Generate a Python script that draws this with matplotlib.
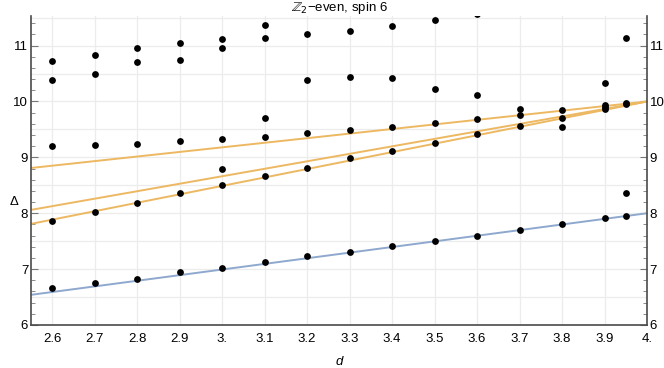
import matplotlib.pyplot as plt
from matplotlib.ticker import MultipleLocator, FixedLocator

plt.rcParams['font.family'] = ['Liberation Sans', 'DejaVu Sans']

# dimensions d at which the spectrum was computed
d_values = [2.6, 2.7, 2.8, 2.9, 3.0, 3.1, 3.2, 3.3, 3.4, 3.5, 3.6, 3.7, 3.8, 3.9, 3.95]

# scaling dimensions found at each d
spectrum = [
    [6.67, 7.87, 9.21, 10.39, 10.73],
    [6.76, 8.03, 9.23, 10.50, 10.83],
    [6.83, 8.19, 9.24, 10.70, 10.95],
    [6.94, 8.36, 9.29, 10.74, 11.04],
    [7.02, 8.50, 8.79, 9.33, 10.95, 11.11],
    [7.13, 8.67, 9.37, 9.71, 11.14, 11.36],
    [7.23, 8.81, 9.43, 10.38, 11.20],
    [7.31, 8.98, 9.49, 10.44, 11.26],
    [7.41, 9.12, 9.55, 10.42, 11.35],
    [7.50, 9.26, 9.61, 10.23, 11.45],
    [7.59, 9.42, 9.69, 10.11, 11.57],
    [7.70, 9.57, 9.75, 9.86],
    [7.80, 9.55, 9.71, 9.84],
    [7.91, 9.87, 9.91, 9.94, 10.33],
    [7.95, 8.36, 9.95, 9.97, 11.14],
]

# reference curves
line_d = [2.55, 4.0]
blue_delta = [6.54, 8.0]
orange_top = [8.81, 10.0]
orange_mid = [8.06, 10.0]
orange_low = [7.81, 10.0]

x_ticks = [2.6, 2.7, 2.8, 2.9, 3.0, 3.1, 3.2, 3.3, 3.4, 3.5, 3.6, 3.7, 3.8, 3.9, 4.0]
x_labels = ["2.6", "2.7", "2.8", "2.9", "3.", "3.1", "3.2", "3.3", "3.4", "3.5",
            "3.6", "3.7", "3.8", "3.9", "4."]
y_ticks = [6, 7, 8, 9, 10, 11]

orange = "#EDB862"
blue = "#8EA8CE"
frame = "#4a4a4a"

fig = plt.figure(figsize=(6.64, 3.68), dpi=100)
ax = fig.add_axes([31 / 664, 1 - 325 / 368, 616 / 664, 309 / 368])
ax.set_xlim(2.55, 4.0)
ax.set_ylim(6, 11.53)

# light grid
for x in x_ticks[:-1]:
    ax.axvline(x, color="#ececec", lw=0.9, zorder=0)
for k in range(12, 24):
    ax.axhline(k / 2, color="#ececec", lw=0.9, zorder=0)

ax.plot(line_d, blue_delta, color=blue, lw=1.4, zorder=2)
for ys in (orange_top, orange_mid, orange_low):
    ax.plot(line_d, ys, color=orange, lw=1.4, zorder=2)

for d, deltas in zip(d_values, spectrum):
    ax.scatter([d] * len(deltas), deltas, s=24, color="black", zorder=3,
               linewidths=0)

ax.spines["top"].set_visible(False)
for side in ("left", "right", "bottom"):
    ax.spines[side].set_color(frame)
    ax.spines[side].set_linewidth(1.2)

ax.xaxis.set_major_locator(FixedLocator(x_ticks))
ax.set_xticklabels(x_labels)
ax.yaxis.set_major_locator(FixedLocator(y_ticks))
ax.yaxis.set_minor_locator(MultipleLocator(0.2))
ax.tick_params(axis="y", which="both", direction="in", left=True, right=True,
               labelleft=True, labelright=True, color="#777777", labelsize=9.5,
               pad=2)
ax.tick_params(axis="y", which="major", length=5, width=0.8)
ax.tick_params(axis="y", which="minor", length=3, width=0.6)
ax.tick_params(axis="x", which="both", direction="in", length=0, labelsize=9.5,
               pad=6)

ax.set_title(r"$\mathbb{Z}_2$−even, spin 6", fontsize=9.5, pad=3)
ax.text(2.51, 8.2, "Δ", fontsize=9.5, ha="center", va="center", clip_on=False)
ax.set_xlabel("d", fontstyle="italic", fontsize=9.5, labelpad=8)

fig.savefig("out.png", dpi=100)
